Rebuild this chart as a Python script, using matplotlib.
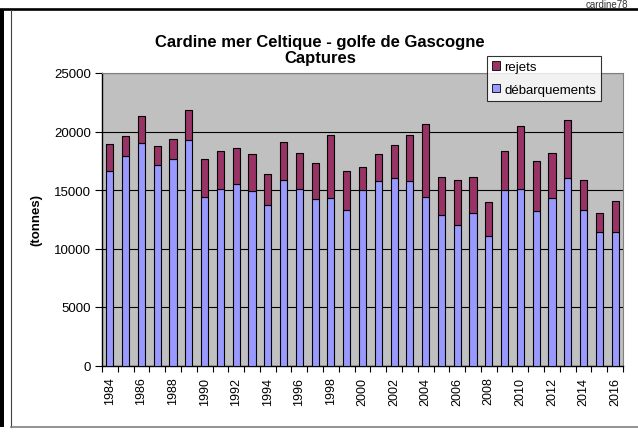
import matplotlib
matplotlib.use("Agg")
import matplotlib.pyplot as plt
import matplotlib.patches as mpatches
from matplotlib.lines import Line2D
import numpy as np

plt.rcParams['font.family'] = ['Liberation Sans', 'DejaVu Sans']

YEARS = list(range(1984, 2017))

DEBARQUEMENTS = [16600, 17900, 19000, 17100, 17650, 19250, 14400, 15100, 15550, 14900,
                 13700, 15850, 15100, 14200, 14300, 13300, 15000, 15750, 16000, 15750,
                 14400, 12850, 12050, 13050, 11050, 15000, 15100, 13200, 14350, 16000,
                 13300, 11450, 11450]

REJETS = [2300, 1700, 2300, 1700, 1700, 2600, 3250, 3250, 3050, 3200,
          2650, 3250, 3050, 3100, 5400, 3350, 1950, 2350, 2850, 3950,
          6200, 3300, 3800, 3050, 2900, 3350, 5400, 4250, 3800, 4950,
          2550, 1600, 2600]

COL_DEB = "#9999ff"
COL_REJ = "#993366"
COL_BG = "#c0c0c0"


def drawFrame(fig):
    # thick black border top and left, thin grey chart frame inside
    fig.add_artist(Line2D([0, 1], [1 - 10 / 435, 1 - 10 / 435], color="black", lw=1.9))
    fig.add_artist(mpatches.Rectangle((0, 7 / 435), 3.5 / 638, 1 - 17 / 435,
                                      color="black", lw=0))
    fig.add_artist(Line2D([11 / 638, 11 / 638], [7 / 435, 1 - 11 / 435],
                          color="#404040", lw=0.8))
    fig.add_artist(Line2D([11 / 638, 1], [7 / 435, 7 / 435], color="#808080", lw=1.2))
    fig.text(607 / 638, 1 - 7.5 / 435, "cardine78", ha="center", va="baseline",
             fontsize=7, color="#333333")


def barChart():
    fig = plt.figure(figsize=(6.38, 4.35), dpi=100)
    drawFrame(fig)
    ax = fig.add_axes([102 / 638, 68.5 / 435, 521 / 638, 292.5 / 435])
    ax.set_facecolor(COL_BG)

    x = np.arange(len(YEARS))
    deb = np.asarray(DEBARQUEMENTS)
    rej = np.asarray(REJETS)
    ax.bar(x, deb, width=0.45, color=COL_DEB, edgecolor="black", linewidth=0.8, zorder=3)
    ax.bar(x, rej, bottom=deb, width=0.45, color=COL_REJ, edgecolor="black",
           linewidth=0.8, zorder=3)

    ax.set_xlim(-0.5, len(YEARS) - 0.5)
    ax.set_ylim(0, 25000)
    ax.set_yticks(range(0, 25001, 5000))
    ax.yaxis.grid(True, color="black", lw=0.8, zorder=1)
    ax.tick_params(axis="y", direction="out", length=5, width=0.8, labelsize=9.5, pad=3)

    # labels every other year, ticks on the category boundaries
    ax.set_xticks(x[::2])
    ax.set_xticklabels([str(y) for y in YEARS[::2]], rotation=90, fontsize=9)
    ax.tick_params(axis="x", length=0, pad=8)
    ax.set_xticks(np.arange(-0.5, len(YEARS)), minor=True)
    ax.tick_params(axis="x", which="minor", direction="out", length=4, width=0.8)

    for s in ["left", "bottom"]:
        ax.spines[s].set_color("black")
        ax.spines[s].set_linewidth(1.0)
    for s in ["top", "right"]:
        ax.spines[s].set_color("#808080")
        ax.spines[s].set_linewidth(0.8)

    ax.set_ylabel("(tonnes)", fontsize=9.5, fontweight="bold", labelpad=8)
    fig.text(320 / 638, 1 - 42 / 435, "Cardine mer Celtique - golfe de Gascogne",
             ha="center", va="center", fontsize=12, fontweight="bold")
    fig.text(320 / 638, 1 - 58 / 435, "Captures", ha="center", va="center",
             fontsize=12, fontweight="bold")

    handles = [mpatches.Patch(facecolor=COL_REJ, edgecolor="black", lw=0.6, label="rejets"),
               mpatches.Patch(facecolor=COL_DEB, edgecolor="black", lw=0.6, label="débarquements")]
    leg = fig.legend(handles=handles, loc="upper left",
                     bbox_to_anchor=(487 / 638, 1 - 57 / 435), fontsize=9.5,
                     frameon=True, fancybox=False, shadow=False, handlelength=0.6,
                     handleheight=0.6, handletextpad=0.3, labelspacing=0.8,
                     borderpad=0.4, borderaxespad=0)
    leg.get_frame().set_edgecolor("black")
    leg.get_frame().set_linewidth(0.8)

    fig.savefig("out.png", dpi=100)


if __name__ == '__main__':
    barChart()
